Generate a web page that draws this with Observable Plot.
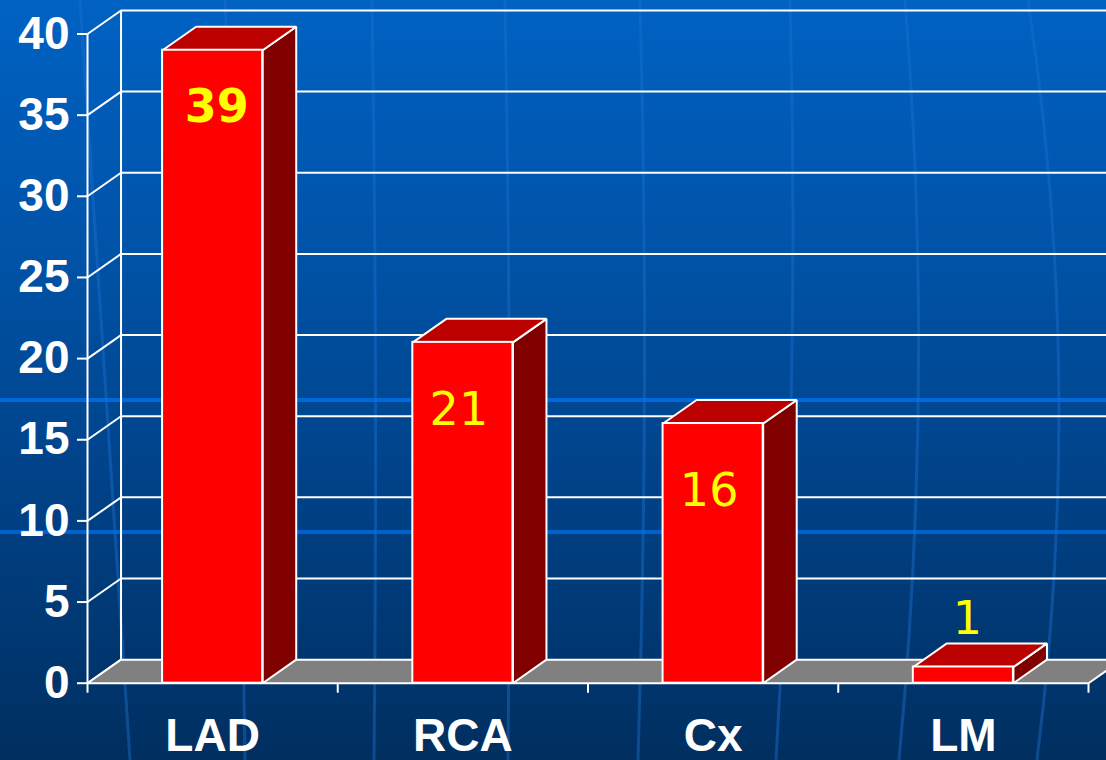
<!DOCTYPE html>
<html>
<head>
<meta charset="utf-8">
<script src="https://cdn.jsdelivr.net/npm/d3@7"></script>
<script src="https://cdn.jsdelivr.net/npm/@observablehq/plot@0.6"></script>
<style>
  html, body { margin: 0; padding: 0; width: 1106px; height: 760px; overflow: hidden; }
  body {
    position: relative;
    background:
      linear-gradient(to bottom,
        transparent 0, transparent 398px, rgba(0,110,230,0.85) 398px, rgba(0,110,230,0.85) 402px, transparent 402px,
        transparent 530px, rgba(0,110,230,0.75) 530px, rgba(0,110,230,0.75) 534px, transparent 534px),
      linear-gradient(to bottom, #0062c3 0%, #0052a6 35%, #00448c 60%, #002f60 100%);
  }
  #deco { position: absolute; left: 0; top: 0; }
  #chart { position: absolute; left: 0; top: 0; }
  #chart svg { display: block; }
</style>
</head>
<body>
<svg id="deco" width="1106" height="760">
  <g fill="none" stroke="#1a6fd0" stroke-opacity="0.45" stroke-width="3">
    <path d="M80,0 Q105,380 130,760"/>
    <path d="M225,0 Q240,380 245,760"/>
    <path d="M372,0 Q378,380 374,760"/>
    <path d="M505,0 Q512,380 508,760"/>
    <path d="M640,0 Q650,380 638,760"/>
    <path d="M790,0 Q800,380 776,760"/>
    <path d="M905,0 Q935,380 899,760"/>
    <path d="M1028,0 Q1085,380 1037,760"/>
  </g>
</svg>
<div id="chart"></div>
<script>
// ---- data ----
const categories = ["LAD", "RCA", "Cx", "LM"];
const values = [39, 21, 16, 1];
const yTicks = [0, 5, 10, 15, 20, 25, 30, 35, 40];
const bandEdges = [0, 1, 2, 3, 4];

// ---- 3D style parameters (depth in data units) ----
const DX = 0.134;   // depth along x
const DY = 1.45;    // depth along y
const BAR0 = 0.3, BAR1 = 0.7;

const bars = values.map((v, i) => ({cat: categories[i], v, i}));

// polygons built from data
const floor = [
  {x: 0, y: 0}, {x: categories.length, y: 0},
  {x: categories.length + DX, y: DY}, {x: DX, y: DY}
];
const sides = bars.flatMap(b => [
  {id: b.i, x: b.i + BAR1, y: 0},
  {id: b.i, x: b.i + BAR1 + DX, y: DY},
  {id: b.i, x: b.i + BAR1 + DX, y: b.v + DY},
  {id: b.i, x: b.i + BAR1, y: b.v}
]);
const tops = bars.flatMap(b => [
  {id: b.i, x: b.i + BAR0, y: b.v},
  {id: b.i, x: b.i + BAR1, y: b.v},
  {id: b.i, x: b.i + BAR1 + DX, y: b.v + DY},
  {id: b.i, x: b.i + BAR0 + DX, y: b.v + DY}
]);

const W = 1106, H = 760;
const chart = Plot.plot({
  width: W,
  height: H,
  marginLeft: 87,
  marginRight: 18,
  marginTop: 33.5,
  marginBottom: 77.3,
  style: {background: "transparent", color: "white", fontFamily: "'Liberation Sans', Arial, sans-serif"},
  x: {type: "linear", domain: [0, categories.length], axis: null},
  y: {domain: [0, 40], axis: null},
  marks: [
    // back wall gridlines
    Plot.ruleY(yTicks.filter(d => d > 0), {y: d => d + DY, x1: DX, x2: categories.length + DX + 0.2, stroke: "white", strokeWidth: 2}),
    Plot.ruleX([DX], {y1: DY, y2: 40 + DY, stroke: "white", strokeWidth: 2}),
    // side wall diagonals
    Plot.link(yTicks, {x1: 0, y1: d => d, x2: DX, y2: d => d + DY, stroke: "white", strokeWidth: 2}),
    // floor
    Plot.line(floor, {x: "x", y: "y", curve: "linear-closed", fill: "#808080", stroke: "white", strokeWidth: 2}),
    // front y axis line
    Plot.ruleX([0], {y1: 0, y2: 40, stroke: "white", strokeWidth: 2}),
    // bars: side, top, front
    Plot.line(sides, {x: "x", y: "y", z: "id", curve: "linear-closed", fill: "#800000", stroke: "white", strokeWidth: 2, strokeLinejoin: "miter"}),
    Plot.line(tops, {x: "x", y: "y", z: "id", curve: "linear-closed", fill: "#bb0000", stroke: "white", strokeWidth: 2, strokeLinejoin: "miter"}),
    Plot.rect(bars, {x1: d => d.i + BAR0, x2: d => d.i + BAR1, y1: 0, y2: "v", fill: "#ff0000", stroke: "white", strokeWidth: 2}),
    // axes
    Plot.axisY({ticks: yTicks, label: null, tickSize: 10, tickPadding: 8, fontSize: 46, fontWeight: "bold", color: "white", strokeWidth: 2, tickFormat: d => String(d)}),
    Plot.axisX({ticks: bandEdges, label: null, tickSize: 10, tickFormat: () => "", color: "white", strokeWidth: 2}),
    Plot.axisX({ticks: categories.map((c, i) => i + 0.5), label: null, tickSize: 0, tickPadding: 35, tickFormat: d => categories[Math.floor(d)], fontSize: 46, fontWeight: "bold", color: "white"}),
    // value labels
    Plot.text(bars.filter(d => d.v >= 5 && d.i === 0), {x: d => d.i + 0.5, y: "v", text: d => String(d.v), dy: 57, dx: 4, fill: "#ffff00", fontSize: 46, fontWeight: "bold", fontFamily: "'DejaVu Sans', Verdana, sans-serif"}),
    Plot.text(bars.filter(d => d.v >= 5 && d.i !== 0), {x: d => d.i + 0.5, y: "v", text: d => String(d.v), dy: 68, dx: -4, fill: "#ffff00", fontSize: 46, fontFamily: "'DejaVu Sans', Verdana, sans-serif"}),
    Plot.text(bars.filter(d => d.v < 5), {x: d => d.i + 0.5, y: "v", text: d => String(d.v), dy: -48, dx: 4, fill: "#ffff00", fontSize: 46, fontFamily: "'DejaVu Sans', Verdana, sans-serif"})
  ]
});
document.getElementById("chart").appendChild(chart);
</script>
</body>
</html>
